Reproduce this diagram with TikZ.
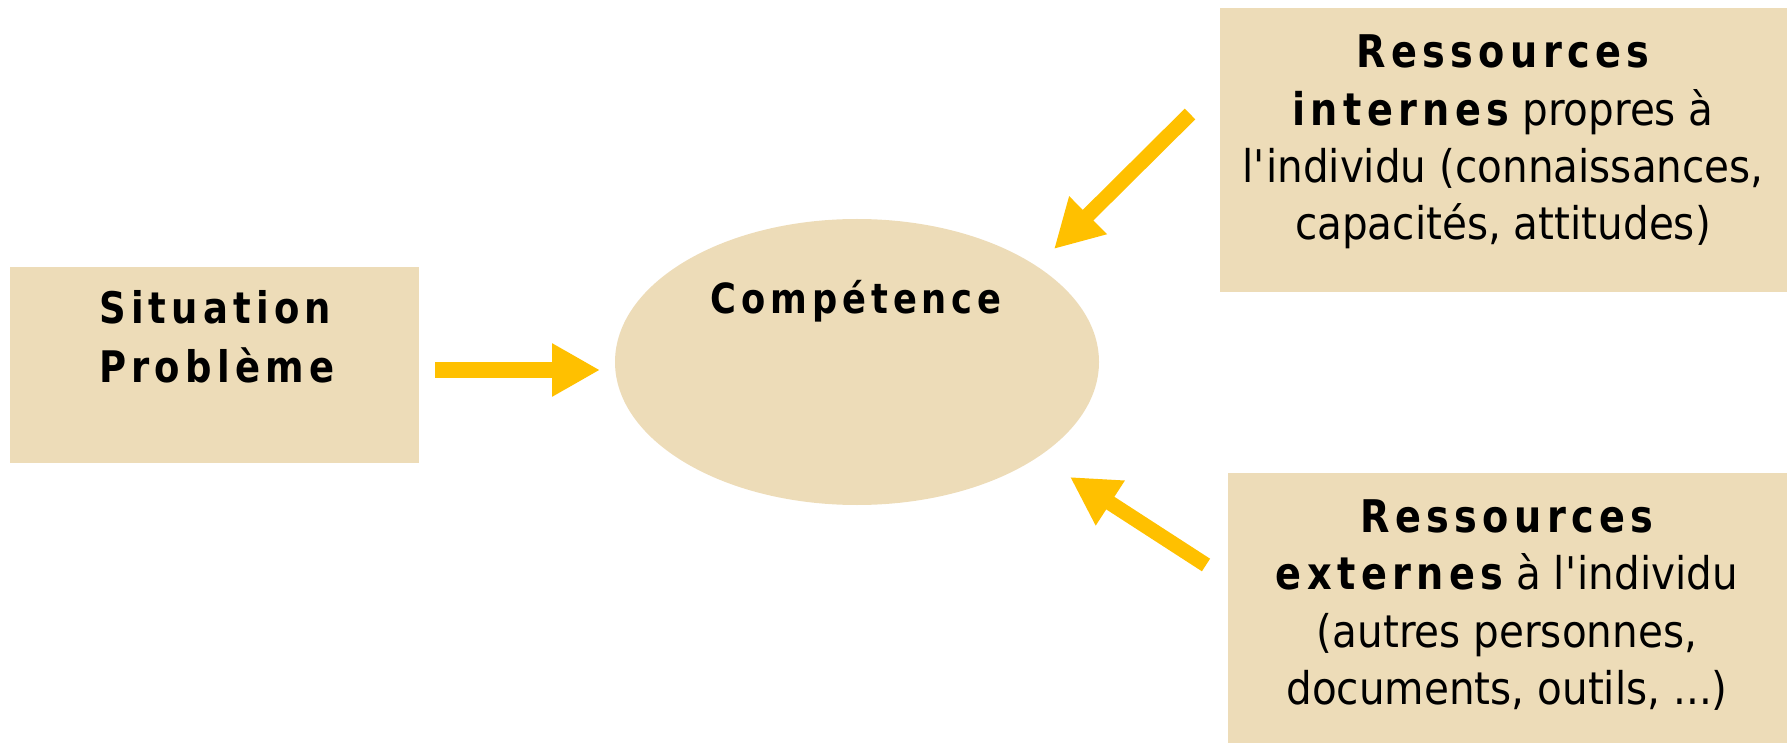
\documentclass[tikz,border=0pt]{standalone}
\usepackage{fontspec}
\setmainfont{DejaVu Sans}[FakeStretch=0.9]
\newfontfamily\spb{DejaVu Sans}[FakeStretch=0.85,LetterSpace=12]
\usetikzlibrary{arrows.meta,shapes.geometric}
\definecolor{tan}{RGB}{237,220,184}
\definecolor{gold}{RGB}{255,192,0}
\begin{document}
\begin{tikzpicture}[x=1pt,y=-1pt,
  box/.style={fill=tan,draw=none,inner sep=0pt,anchor=north west},
  txt/.style={inner sep=0pt,align=center,font=\fontsize{45}{57.4}\selectfont},
  arr/.style={draw=gold,line width=15pt,-{Triangle[length=48pt,width=50pt]}}]
\useasboundingbox (0,0) rectangle (1789,743);
% boxes
\node[box,minimum width=409pt,minimum height=196pt] (sit) at (10,267) {};
\node[ellipse,fill=tan,draw=none,minimum width=484pt,minimum height=286pt,inner sep=0pt] (comp) at (857,362) {};
\node[box,minimum width=567pt,minimum height=284pt] (rint) at (1220,8) {};
\node[box,minimum width=559pt,minimum height=270pt] (rext) at (1228,473) {};
% texts
\node[txt,align=left,anchor=west,font=\fontsize{43.5}{59}\selectfont] (sittxt) at (99,337) {{\spb\bfseries Situation}\\{\spb\bfseries Problème}};
\node[txt,font=\fontsize{41.5}{50}\selectfont] (comptxt) at (856,301) {\spb\bfseries Compétence};
\node[txt] (rinttxt) at (1503,142) {{\spb\bfseries Ressources}\\{\spb\bfseries internes} propres à\\l\textquotesingle individu (connaissances,\\capacités, attitudes)};
\node[txt] (rexttxt) at (1507,605) {{\spb\bfseries Ressources}\\{\spb\bfseries externes} à l\textquotesingle individu\\(autres personnes,\\documents, outils, ...)};
% arrows
\coordinate (a1s) at (435,370);
\coordinate (a1e) at (600,370);
\coordinate (a2s) at (1190,114);
\coordinate (a2e) at (1054,249);
\coordinate (a3s) at (1206,565);
\coordinate (a3e) at (1070,477);
\draw[arr] (a1s) -- (a1e);
\draw[arr] (a2s) -- (a2e);
\draw[arr] (a3s) -- (a3e);
\end{tikzpicture}
\end{document}
